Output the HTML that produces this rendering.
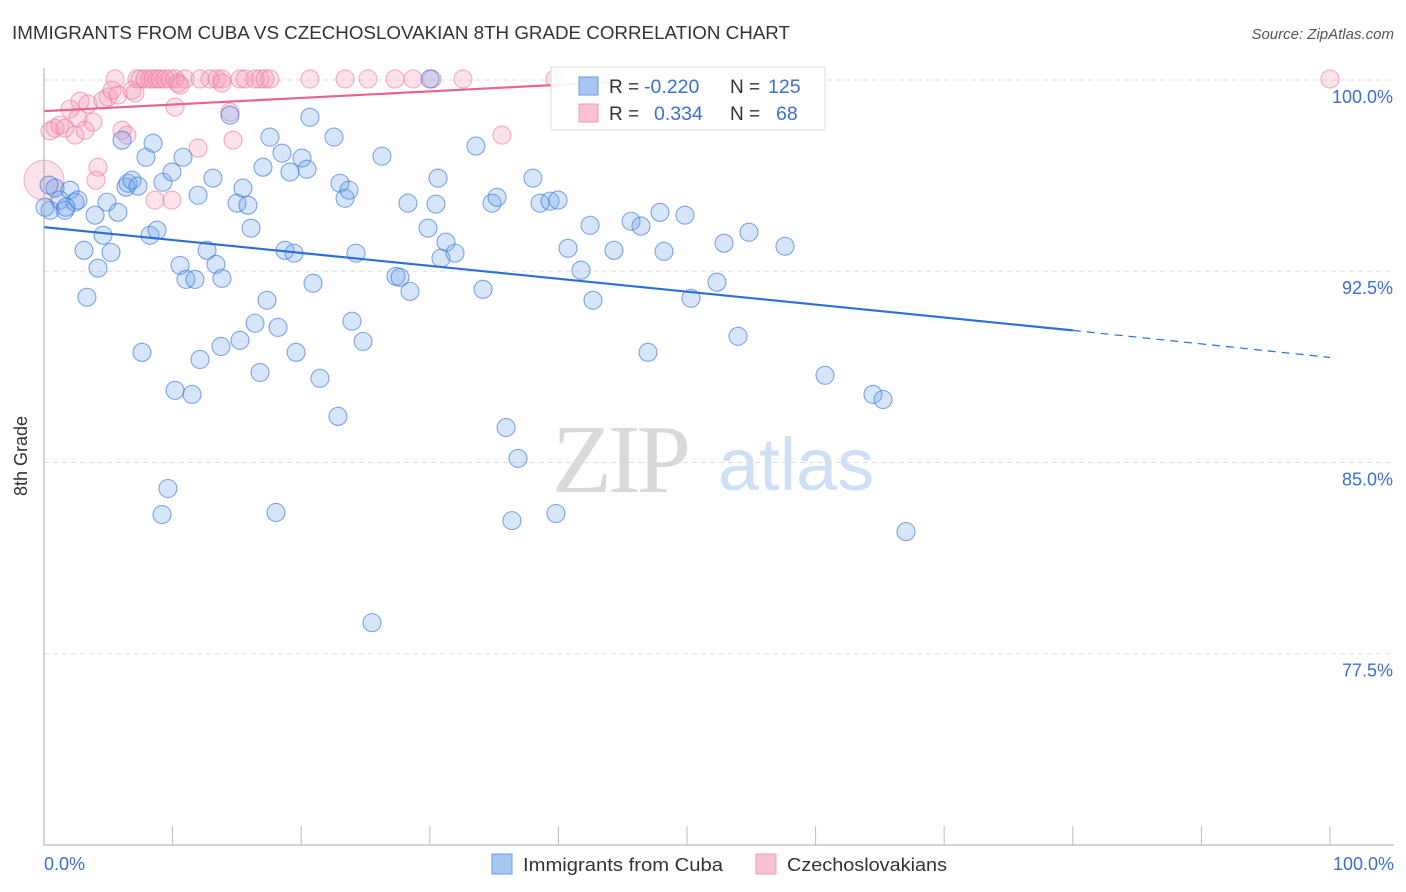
<!DOCTYPE html>
<html><head><meta charset="utf-8"><style>
body{margin:0;background:#fff;font-family:"Liberation Sans",sans-serif;}
svg{display:block}
</style></head><body>
<svg id="chart" width="1406" height="892" xmlns="http://www.w3.org/2000/svg">
<text x="12" y="39" font-size="18" fill="#333" textLength="778" lengthAdjust="spacingAndGlyphs">IMMIGRANTS FROM CUBA VS CZECHOSLOVAKIAN 8TH GRADE CORRELATION CHART</text>
<text x="1394" y="39" font-size="15" fill="#555" font-style="italic" text-anchor="end">Source: ZipAtlas.com</text>
<g>
<text x="552" y="492" font-size="98" fill="#d9d9d9" font-family="Liberation Serif,serif" letter-spacing="-4">ZIP</text>
<text x="718" y="490" font-size="74" fill="#cfe0f5">atlas</text>
</g>
<g id="grid"></g>
<g id="marks"></g>
<line x1="44" y1="68" x2="44" y2="845" stroke="#aaa" stroke-width="1"/>
<line x1="44" y1="845" x2="1394" y2="845" stroke="#aaa" stroke-width="1"/>
<text x="27" y="456" font-size="18" fill="#333" text-anchor="middle" transform="rotate(-90 27 456)">8th Grade</text>
<text x="44" y="870" font-size="18" fill="#3b6fd4">0.0%</text>
<text x="1394" y="870" font-size="18" fill="#3b6fd4" text-anchor="end">100.0%</text>
<g>
<rect x="551" y="67" width="274" height="63" fill="#fff" fill-opacity="0.9" stroke="#ddd"/>
<rect x="579" y="77" width="19" height="18" fill="#a9c6f2" stroke="#6b9be6"/>
<rect x="579" y="104" width="19" height="18" fill="#f9c1d2" stroke="#f09ab4"/>
<text x="609" y="93" font-size="19" fill="#333">R = </text><text x="644" y="93" font-size="19.5" fill="#3b6fd4">-0.220</text>
<text x="730" y="93" font-size="19" fill="#333">N = </text><text x="768" y="93" font-size="19.5" fill="#3b6fd4">125</text>
<text x="609" y="120" font-size="19" fill="#333">R = </text><text x="654" y="120" font-size="19.5" fill="#3b6fd4">0.334</text>
<text x="730" y="120" font-size="19" fill="#333">N = </text><text x="776" y="120" font-size="19.5" fill="#3b6fd4">68</text>
</g>
<g>
<rect x="492" y="854" width="20" height="20" fill="#a9c6f2" stroke="#6b9be6"/>
<text x="523" y="871" font-size="18.5" fill="#333" textLength="200" lengthAdjust="spacingAndGlyphs">Immigrants from Cuba</text>
<rect x="756" y="854" width="20" height="20" fill="#f9c1d2" stroke="#f09ab4"/>
<text x="787" y="871" font-size="18.5" fill="#333" textLength="160" lengthAdjust="spacingAndGlyphs">Czechoslovakians</text>
</g>
</svg>
<script>
const yTicks=[100,92.5,85,77.5];
const yTickLabels=["100.0%","92.5%","85.0%","77.5%"];
const xTicks=[0,10,20,30,40,50,60,70,80,90,100];
const cubaX=[0.47,0.86,1.24,1.63,2.02,2.41,2.64,3.11,3.34,3.97,4.20,4.59,4.90,5.21,5.75,6.07,6.38,6.53,6.84,7.31,7.62,7.93,8.24,8.48,8.79,9.25,9.64,9.18,9.95,10.19,10.58,10.81,11.04,11.51,11.74,11.98,12.13,12.68,13.14,13.37,13.76,13.84,14.46,15.01,15.24,15.47,15.86,16.10,16.41,16.80,17.03,17.34,17.57,18.04,18.20,18.51,18.74,19.13,19.44,19.60,20.06,20.45,20.68,20.92,21.46,22.55,22.86,23.02,23.41,23.72,23.95,24.26,24.81,25.51,26.28,27.37,27.68,28.30,28.46,29.86,30.02,30.48,30.64,30.87,31.26,31.96,33.59,34.14,34.84,35.23,35.93,36.39,36.86,38.02,38.57,39.35,39.81,39.97,40.75,41.76,42.46,42.69,44.32,45.65,46.42,46.97,47.90,48.21,49.84,50.31,52.33,52.88,53.97,54.82,57.62,60.73,64.46,65.24,67.03,0.39,0.08,1.71];
const cubaY=[94.89,95.76,95.29,94.89,95.68,95.21,95.29,93.32,91.48,94.70,92.62,93.91,95.21,93.24,94.81,97.64,95.80,95.95,96.07,95.84,89.32,96.97,93.91,97.52,94.11,95.99,83.98,82.96,96.39,87.83,92.73,96.97,92.18,87.67,92.18,95.48,89.04,93.32,96.15,92.77,89.55,92.22,98.62,95.17,89.79,95.76,95.09,94.19,90.46,88.53,96.58,91.36,97.76,83.04,90.30,97.13,93.32,96.39,93.21,89.32,96.94,96.50,98.54,92.03,88.30,97.76,86.81,95.95,95.36,95.68,90.54,93.21,89.75,78.72,97.01,92.30,92.26,95.17,91.71,94.19,100.04,95.13,96.15,93.01,93.64,93.21,97.41,91.79,95.17,95.40,86.37,82.72,85.16,96.15,95.17,95.25,83.00,95.29,93.40,92.54,94.30,91.36,93.32,94.46,94.27,89.32,94.81,93.28,94.70,91.44,92.07,93.60,89.95,94.03,93.48,88.42,87.67,87.47,82.29,95.88,95.01,95.01];
const czX=[5.52,7.23,7.47,7.85,8.24,8.48,8.79,9.02,9.41,9.80,10.19,10.96,12.13,12.91,13.45,13.84,15.24,15.63,16.41,16.80,17.19,17.57,20.68,23.41,25.19,27.29,28.69,30.17,32.58,39.74,100,0.47,0.86,1.24,1.63,2.02,2.41,2.64,2.80,3.19,3.42,3.81,4.20,4.04,4.59,4.98,5.29,5.75,6.07,6.45,6.84,7.08,8.63,9.95,10.19,10.42,11.98,14.46,14.70,35.61,13.84,10.58];
const czY=[100.04,100.04,100.04,100.04,100.04,100.04,100.04,100.04,100.04,100.04,100.04,100.04,100.04,100.04,100.04,100.04,100.04,100.04,100.04,100.04,100.04,100.04,100.04,100.04,100.04,100.04,100.04,100.04,100.04,100.04,100.04,98.00,98.11,98.23,98.11,98.86,97.84,98.51,99.17,98.03,99.06,98.35,96.58,96.07,99.21,99.33,99.60,99.41,98.03,97.84,99.60,99.49,95.29,95.29,98.94,99.88,97.33,98.74,97.64,97.84,99.88,99.80];
const cubaTrend=[94.23,90.18,89.12]; // at x=0, 80, 100
const czTrend=[98.78,99.94]; // at x=0, 45
const NS="http://www.w3.org/2000/svg";
const X0=44,X1=1330,YTOP=68,YBOT=845,DMIN=70,DMAX=100.47;
function xs(v){return X0+(v/100)*(X1-X0);}
function ys(v){return YBOT-(v-DMIN)/(DMAX-DMIN)*(YBOT-YTOP);}
function mk(tag,attrs,parent){const e=document.createElementNS(NS,tag);for(const k in attrs)e.setAttribute(k,attrs[k]);parent.appendChild(e);return e;}
const grid=document.getElementById('grid'),marks=document.getElementById('marks');
yTicks.forEach((t,i)=>{
 const l=mk('line',{x1:44,x2:1394,y1:ys(t),y2:ys(t),stroke:'#ddd','stroke-dasharray':'5,4'},grid);
 
 
 const tx=mk('text',{x:1393,y:ys(t)+23,'font-size':18,fill:'#3b6fd4','text-anchor':'end'},grid);
 tx.textContent=yTickLabels[i];
 
 
});
xTicks.forEach(t=>{
 const l=mk('line',{x1:xs(t),x2:xs(t),y1:826,y2:845,stroke:'#bbb'},grid);
 
 
});
function dot(x,y,r,fill,stroke,name){
 const c=mk('circle',{cx:xs(x),cy:ys(y),r:r,fill:fill,stroke:stroke,'stroke-width':1.1},marks);
 
 
}
czX.forEach((x,i)=>dot(x,czY[i],9,'rgba(244,150,180,0.28)','rgba(236,120,160,0.6)','czech-point'));
dot(0,96.07,20,'rgba(244,150,180,0.28)','rgba(236,120,160,0.5)','czech-point');
cubaX.forEach((x,i)=>dot(x,cubaY[i],9,'rgba(110,160,235,0.28)','rgba(60,120,220,0.65)','cuba-point'));
let l=mk('line',{x1:xs(0),y1:ys(cubaTrend[0]),x2:xs(80),y2:ys(cubaTrend[1]),stroke:'#2a6fd6','stroke-width':2.2},marks);


l=mk('line',{x1:xs(80),y1:ys(cubaTrend[1]),x2:xs(100),y2:ys(cubaTrend[2]),stroke:'#2a6fd6','stroke-width':1.2,'stroke-dasharray':'8,6'},marks);


l=mk('line',{x1:xs(0),y1:ys(czTrend[0]),x2:xs(45),y2:ys(czTrend[1]),stroke:'#e8648f','stroke-width':2.2},marks);


</script>
</body></html>
